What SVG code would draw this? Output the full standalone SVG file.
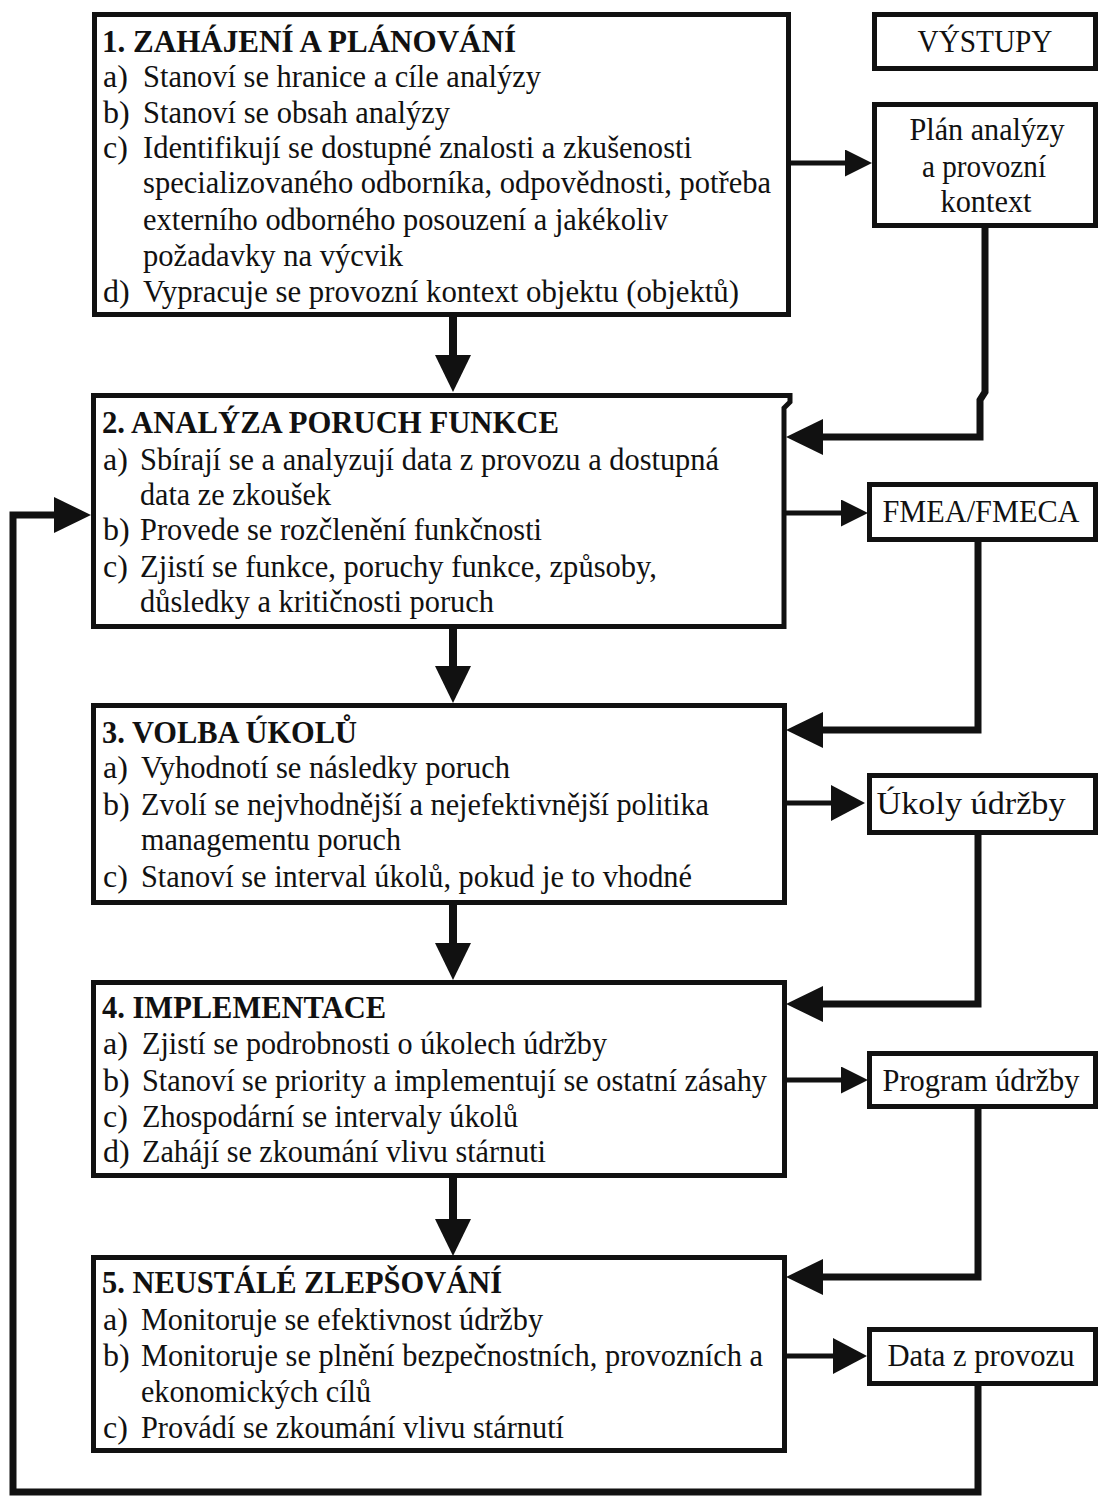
<svg xmlns="http://www.w3.org/2000/svg" width="1102" height="1499" viewBox="0 0 1102 1499">
<style>
text{font-family:"Liberation Serif","Times New Roman",serif;font-size:32px;fill:#111}
.t{font-weight:bold}
.c{text-anchor:middle}
.box{fill:#fff;stroke:#111;stroke-width:5}
.ln{fill:none;stroke:#111;stroke-width:7;stroke-linejoin:miter}
.sh{fill:none;stroke:#111;stroke-width:8}
.out{fill:none;stroke:#111;stroke-width:5}
</style>
<defs>
<marker id="big" markerUnits="userSpaceOnUse" viewBox="0 0 37 36" markerWidth="37" markerHeight="36" refX="0" refY="18" orient="auto"><path d="M0,0 L37,18 L0,36 Z" fill="#111"/></marker>
<marker id="mid" markerUnits="userSpaceOnUse" viewBox="0 0 34 36" markerWidth="34" markerHeight="36" refX="0" refY="18" orient="auto"><path d="M0,0 L34,18 L0,36 Z" fill="#111"/></marker>
<marker id="small" markerUnits="userSpaceOnUse" viewBox="0 0 27 27" markerWidth="27" markerHeight="27" refX="0" refY="13.5" orient="auto"><path d="M0,0 L27,13.5 L0,27 Z" fill="#111"/></marker>
</defs>
<rect width="1102" height="1499" fill="#fff"/>

<g id="connectors">
<path class="sh" d="M453,317 V355" marker-end="url(#big)"/>
<path class="sh" d="M453,628 V666" marker-end="url(#big)"/>
<path class="sh" d="M453,905 V943" marker-end="url(#big)"/>
<path class="sh" d="M453,1178 V1219" marker-end="url(#big)"/>
<path class="out" d="M791,163 H845" marker-end="url(#small)"/>
<path class="out" d="M786,513 H841" marker-end="url(#small)"/>
<path class="out" d="M787,803 H831" marker-end="url(#mid)"/>
<path class="out" d="M787,1080 H841" marker-end="url(#small)"/>
<path class="out" d="M787,1356 H833" marker-end="url(#mid)"/>
<path class="ln" d="M985,227 V392 L980,400 V437 H823" marker-end="url(#big)"/>
<path class="ln" d="M978,540 V730 H823" marker-end="url(#big)"/>
<path class="ln" d="M978,833 V1004 H823" marker-end="url(#big)"/>
<path class="ln" d="M978,1107 V1277 H823" marker-end="url(#big)"/>
<path class="ln" d="M978,1384 V1492 H13 V515 H54" marker-end="url(#big)"/>
</g>

<g id="box1">
<rect class="box" x="94.5" y="14.5" width="694" height="300"/>
<text class="t" x="102" y="52" textLength="414" lengthAdjust="spacingAndGlyphs">1. ZAHÁJENÍ A PLÁNOVÁNÍ</text>
<text x="103" y="87">a)</text><text x="143" y="87" textLength="398" lengthAdjust="spacingAndGlyphs">Stanoví se hranice a cíle analýzy</text>
<text x="103" y="123">b)</text><text x="143" y="123" textLength="307" lengthAdjust="spacingAndGlyphs">Stanoví se obsah analýzy</text>
<text x="103" y="158">c)</text><text x="143" y="158" textLength="549" lengthAdjust="spacingAndGlyphs">Identifikují se dostupné znalosti a zkušenosti</text>
<text x="143" y="193" textLength="628" lengthAdjust="spacingAndGlyphs">specializovaného odborníka, odpovědnosti, potřeba</text>
<text x="143" y="230" textLength="525" lengthAdjust="spacingAndGlyphs">externího odborného posouzení a jakékoliv</text>
<text x="143" y="266" textLength="260" lengthAdjust="spacingAndGlyphs">požadavky na výcvik</text>
<text x="103" y="302">d)</text><text x="143" y="302" textLength="596" lengthAdjust="spacingAndGlyphs">Vypracuje se provozní kontext objektu (objektů)</text>
</g>

<g id="box2">
<path class="box" d="M93.5,395.5 H790 V402 L784,408 V626.5 H93.5 Z"/>
<text class="t" x="102" y="433" textLength="457" lengthAdjust="spacingAndGlyphs">2. ANALÝZA PORUCH FUNKCE</text>
<text x="103" y="470">a)</text><text x="140" y="470" textLength="579" lengthAdjust="spacingAndGlyphs">Sbírají se a analyzují data z provozu a dostupná</text>
<text x="140" y="505" textLength="191" lengthAdjust="spacingAndGlyphs">data ze zkoušek</text>
<text x="103" y="540">b)</text><text x="140" y="540" textLength="402" lengthAdjust="spacingAndGlyphs">Provede se rozčlenění funkčnosti</text>
<text x="103" y="577">c)</text><text x="140" y="577" textLength="517" lengthAdjust="spacingAndGlyphs">Zjistí se funkce, poruchy funkce, způsoby,</text>
<text x="140" y="612" textLength="354" lengthAdjust="spacingAndGlyphs">důsledky a kritičnosti poruch</text>
</g>

<g id="box3">
<rect class="box" x="93.5" y="705.5" width="691" height="197"/>
<text class="t" x="102" y="743" textLength="255" lengthAdjust="spacingAndGlyphs">3. VOLBA ÚKOLŮ</text>
<text x="103" y="778">a)</text><text x="141" y="778" textLength="369" lengthAdjust="spacingAndGlyphs">Vyhodnotí se následky poruch</text>
<text x="103" y="815">b)</text><text x="141" y="815" textLength="568" lengthAdjust="spacingAndGlyphs">Zvolí se nejvhodnější a nejefektivnější politika</text>
<text x="141" y="850" textLength="260" lengthAdjust="spacingAndGlyphs">managementu poruch</text>
<text x="103" y="887">c)</text><text x="141" y="887" textLength="551" lengthAdjust="spacingAndGlyphs">Stanoví se interval úkolů, pokud je to vhodné</text>
</g>

<g id="box4">
<rect class="box" x="93.5" y="982.5" width="691" height="193"/>
<text class="t" x="102" y="1018" textLength="284" lengthAdjust="spacingAndGlyphs">4. IMPLEMENTACE</text>
<text x="103" y="1054">a)</text><text x="142" y="1054" textLength="465" lengthAdjust="spacingAndGlyphs">Zjistí se podrobnosti o úkolech údržby</text>
<text x="103" y="1091">b)</text><text x="142" y="1091" textLength="625" lengthAdjust="spacingAndGlyphs">Stanoví se priority a implementují se ostatní zásahy</text>
<text x="103" y="1127">c)</text><text x="142" y="1127" textLength="376" lengthAdjust="spacingAndGlyphs">Zhospodární se intervaly úkolů</text>
<text x="103" y="1162">d)</text><text x="142" y="1162" textLength="404" lengthAdjust="spacingAndGlyphs">Zahájí se zkoumání vlivu stárnuti</text>
</g>

<g id="box5">
<rect class="box" x="93.5" y="1257.5" width="691" height="193"/>
<text class="t" x="102" y="1293" textLength="400" lengthAdjust="spacingAndGlyphs">5. NEUSTÁLÉ ZLEPŠOVÁNÍ</text>
<text x="103" y="1330">a)</text><text x="141" y="1330" textLength="402" lengthAdjust="spacingAndGlyphs">Monitoruje se efektivnost údržby</text>
<text x="103" y="1366">b)</text><text x="141" y="1366" textLength="622" lengthAdjust="spacingAndGlyphs">Monitoruje se plnění bezpečnostních, provozních a</text>
<text x="141" y="1402" textLength="230" lengthAdjust="spacingAndGlyphs">ekonomických cílů</text>
<text x="103" y="1438">c)</text><text x="141" y="1438" textLength="423" lengthAdjust="spacingAndGlyphs">Provádí se zkoumání vlivu stárnutí</text>
</g>

<g id="vystupy">
<rect class="box" x="874.5" y="14.5" width="221" height="54"/>
<text class="c" x="985" y="52" textLength="135" lengthAdjust="spacingAndGlyphs">VÝSTUPY</text>
</g>
<g id="plan">
<rect class="box" x="874.5" y="104.5" width="221" height="121"/>
<text class="c" x="987" y="140" textLength="155" lengthAdjust="spacingAndGlyphs">Plán analýzy</text>
<text class="c" x="984" y="177" textLength="124" lengthAdjust="spacingAndGlyphs">a provozní</text>
<text class="c" x="986" y="212" textLength="91" lengthAdjust="spacingAndGlyphs">kontext</text>
</g>
<g id="fmea">
<rect class="box" x="869.5" y="484.5" width="226" height="55"/>
<text class="c" x="981" y="522" textLength="197" lengthAdjust="spacingAndGlyphs">FMEA/FMECA</text>
</g>
<g id="ukoly">
<rect class="box" x="869.5" y="775.5" width="226" height="57"/>
<text class="c" x="971" y="814" textLength="189" lengthAdjust="spacingAndGlyphs">Úkoly údržby</text>
</g>
<g id="program">
<rect class="box" x="869.5" y="1053.5" width="226" height="53"/>
<text class="c" x="981" y="1091" textLength="197" lengthAdjust="spacingAndGlyphs">Program údržby</text>
</g>
<g id="data">
<rect class="box" x="869.5" y="1329.5" width="226" height="54"/>
<text class="c" x="981" y="1366" textLength="187" lengthAdjust="spacingAndGlyphs">Data z provozu</text>
</g>
</svg>
